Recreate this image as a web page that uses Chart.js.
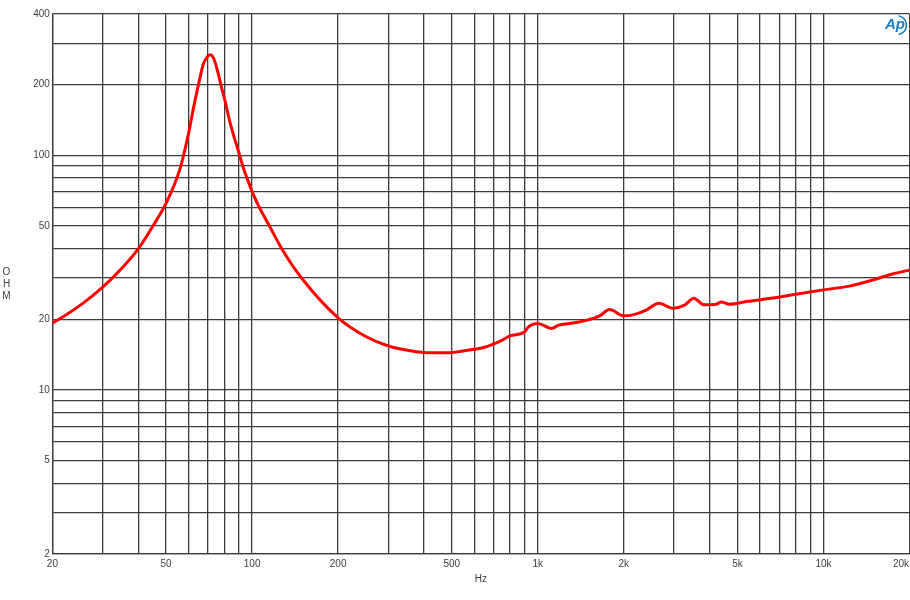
<!DOCTYPE html>
<html>
<head>
<meta charset="utf-8">
<title>Impedance</title>
<style>
html, body { margin: 0; padding: 0; background: #fff; overflow: hidden; }
canvas { display: block; }
</style>
<script src="https://cdn.jsdelivr.net/npm/chart.js@4/dist/chart.umd.min.js"></script>
</head>
<body>
<canvas id="impedanceChart" width="910" height="600"></canvas>
<script>
const freqs = [20, 21.8, 25.7, 30, 35, 40, 45.2, 50, 56, 60, 62.3, 64.9, 67.6, 70, 71.3, 73.2, 75.6, 78.4, 80, 83.8, 90, 93.3, 97.9, 100, 106, 115, 127, 149, 200, 250, 300, 350, 400, 450, 500, 600, 650, 700, 736, 800, 900, 924, 1000, 1116, 1186, 1293, 1478, 1646, 1784, 2000, 2152, 2396, 2654, 2969, 3264, 3518, 3802, 4213, 4386, 4689, 5363, 5965, 7010, 8000, 10000, 12310, 14850, 17450, 20000];
const ohms = [19.3, 20.5, 23.5, 27.4, 33, 40, 50.5, 62.5, 88, 125, 158, 200, 246, 264, 268, 260, 230, 192, 175, 137, 102, 88, 75, 70, 60, 50, 40, 30, 20.3, 16.9, 15.4, 14.77, 14.45, 14.4, 14.45, 14.9, 15.2, 15.7, 16.1, 17, 17.7, 18.5, 19.2, 18.3, 18.9, 19.2, 19.8, 20.7, 22, 20.7, 20.9, 21.9, 23.4, 22.3, 23, 24.6, 23.1, 23.2, 23.7, 23.2, 23.8, 24.2, 24.9, 25.6, 26.7, 27.7, 29.4, 31.2, 32.4];

const xTicks = [20, 30, 40, 50, 60, 70, 80, 90, 100, 200, 300, 400, 500, 600, 700, 800, 900, 1000, 2000, 3000, 4000, 5000, 6000, 7000, 8000, 9000, 10000, 20000];
const yTicks = [2, 3, 4, 5, 6, 7, 8, 9, 10, 20, 30, 40, 50, 60, 70, 80, 90, 100, 200, 300, 400];
const xLabels = {20: '20', 50: '50', 100: '100', 200: '200', 500: '500', 1000: '1k', 2000: '2k', 5000: '5k', 10000: '10k'};
const yLabels = [2, 5, 10, 20, 50, 100, 200, 400];

const fontFamily = '"Liberation Sans", Arial, sans-serif';
const labelColor = '#404040';
const gridColor = '#3c3c3c';

// text that the axes can't place: stacked OHM, the 20k flush right, the AP mark
const extras = {
    id: 'extras',
    afterDraw(chart) {
        const ctx = chart.ctx;
        ctx.save();
        ctx.font = '10px ' + fontFamily;
        ctx.fillStyle = labelColor;
        ctx.textBaseline = 'middle';
        ctx.textAlign = 'center';
        ctx.fillText('O', 6.5, 272);
        ctx.fillText('H', 6.5, 284);
        ctx.fillText('M', 6.5, 296);
        ctx.textAlign = 'right';
        ctx.fillText('20k', 909, 564);
        ctx.fillStyle = '#1b7dbf';
        ctx.strokeStyle = '#1b7dbf';
        ctx.font = 'italic bold 15px ' + fontFamily;
        ctx.textAlign = 'left';
        ctx.fillText('Ap', 885, 25);
        ctx.lineWidth = 1.5;
        ctx.beginPath();
        ctx.arc(897, 25, 9.5, -1.4, 1.4);
        ctx.stroke();
        ctx.restore();
    }
};

new Chart(document.getElementById('impedanceChart'), {
    type: 'line',
    plugins: [extras],
    data: {
        datasets: [{
            data: freqs.map((f, i) => ({x: f, y: ohms[i]})),
            borderColor: '#ff0000',
            borderWidth: 3,
            pointRadius: 0,
            fill: false,
            cubicInterpolationMode: 'monotone'
        }]
    },
    options: {
        responsive: false,
        animation: false,
        events: [],
        layout: {autoPadding: false, padding: {top: 14, right: 0.5, bottom: 0, left: 0}},
        plugins: {legend: {display: false}, tooltip: {enabled: false}, title: {display: false}},
        scales: {
            x: {
                type: 'logarithmic',
                min: 20,
                max: 20000,
                afterBuildTicks: s => { s.ticks = xTicks.map(v => ({value: v})); },
                afterFit: s => { s.height = 46; s.paddingLeft = 0; s.paddingRight = 0; },
                grid: {color: gridColor, lineWidth: 1.3, drawTicks: false},
                border: {color: gridColor, width: 1.3},
                ticks: {
                    autoSkip: false,
                    maxRotation: 0,
                    padding: 4,
                    color: labelColor,
                    font: {family: fontFamily, size: 10},
                    callback: v => xLabels[v] || ''
                },
                title: {
                    display: true,
                    text: 'Hz',
                    color: labelColor,
                    font: {family: fontFamily, size: 10},
                    padding: {top: 0, bottom: 15}
                }
            },
            y: {
                type: 'logarithmic',
                min: 2,
                max: 400,
                afterBuildTicks: s => { s.ticks = yTicks.map(v => ({value: v})); },
                afterFit: s => { s.width = 52.4; s.paddingTop = 0; s.paddingBottom = 0; },
                grid: {color: gridColor, lineWidth: 1.3, drawTicks: false},
                border: {color: gridColor, width: 1.3},
                ticks: {
                    autoSkip: false,
                    padding: 2.5,
                    color: labelColor,
                    font: {family: fontFamily, size: 10},
                    callback: v => yLabels.includes(v) ? String(v) : ''
                }
            }
        }
    }
});
</script>
</body>
</html>
